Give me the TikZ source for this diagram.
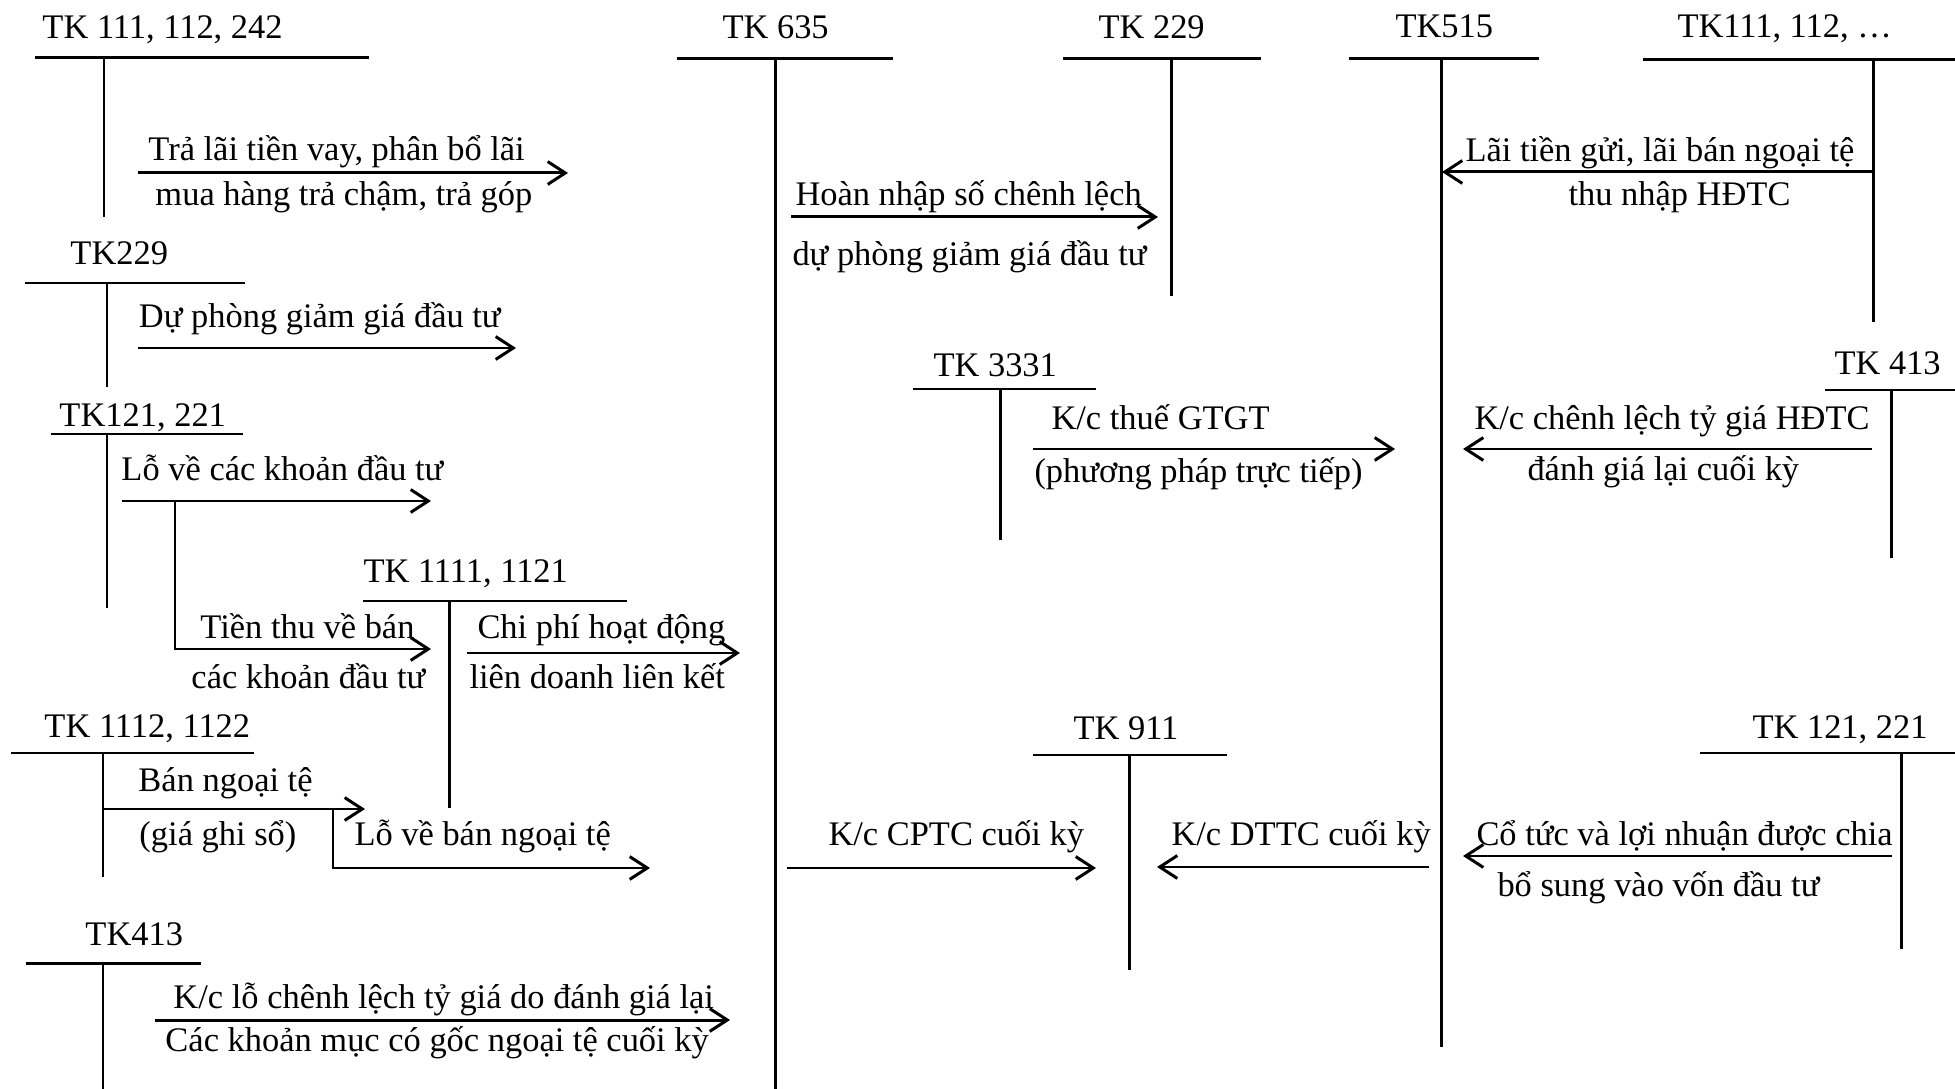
\documentclass[tikz,border=0pt]{standalone}
\usepackage{fontspec}
\setmainfont{Liberation Serif}
\usepackage{tikz}
\usetikzlibrary{arrows.meta}

\begin{document}
\begin{tikzpicture}[line width=0.85pt, >={Straight Barb[length=5pt,width=6.5pt]},
    lbl/.style={anchor=base west, inner sep=0pt, font=\fontsize{9.8}{12}\selectfont},
    txt/.style={lbl, yshift=-0.3mm}]
      \useasboundingbox (0, 0) rectangle (19.55, -10.89);
      % T accounts
      \node[lbl] (tk111a) at (0.41, -0.39) {TK 111, 112, 242};
      \draw (0.35, -0.58) -- (3.69, -0.58);
      \draw (1.04, -0.58) -- (1.04, -2.17);
      \node[lbl] (tk635) at (7.21, -0.39) {TK 635};
      \draw (6.77, -0.59) -- (8.93, -0.59);
      \draw (7.75, -0.59) -- (7.75, -10.89);
      \node[lbl] (tk229b) at (10.97, -0.39) {TK 229};
      \draw (10.63, -0.59) -- (12.61, -0.59);
      \draw (11.71, -0.59) -- (11.71, -2.96);
      \node[lbl] (tk515) at (13.94, -0.38) {TK515};
      \draw (13.49, -0.59) -- (15.39, -0.59);
      \draw (14.41, -0.59) -- (14.41, -10.47);
      \node[lbl] (tk111b) at (16.76, -0.38) {TK111, 112, …};
      \draw (16.43, -0.60) -- (19.55, -0.60);
      \draw (18.73, -0.60) -- (18.73, -3.22);
      \node[lbl] (tk229a) at (0.69, -2.65) {TK229};
      \draw (0.25, -2.83) -- (2.45, -2.83);
      \draw (1.07, -2.83) -- (1.07, -3.87);
      \node[lbl] (tk3331) at (9.32, -3.77) {TK 3331};
      \draw (9.13, -3.89) -- (10.96, -3.89);
      \draw (10.00, -3.89) -- (10.00, -5.40);
      \node[lbl] (tk413b) at (18.33, -3.75) {TK 413};
      \draw (18.25, -3.90) -- (19.55, -3.90);
      \draw (18.91, -3.90) -- (18.91, -5.58);
      \node[lbl] (tk121a) at (0.58, -4.27) {TK121, 221};
      \draw (0.51, -4.34) -- (2.43, -4.34);
      \draw (1.07, -4.34) -- (1.07, -6.08);
      \node[lbl] (tk1111) at (3.62, -5.82) {TK 1111, 1121};
      \draw (3.63, -6.01) -- (6.27, -6.01);
      \draw (4.49, -6.01) -- (4.49, -8.08);
      \node[lbl] (tk1112) at (0.43, -7.37) {TK 1112, 1122};
      \draw (0.11, -7.53) -- (2.54, -7.53);
      \draw (1.03, -7.53) -- (1.03, -8.77);
      \node[lbl] (tk911) at (10.72, -7.39) {TK 911};
      \draw (10.33, -7.55) -- (12.27, -7.55);
      \draw (11.29, -7.55) -- (11.29, -9.70);
      \node[lbl] (tk121b) at (17.51, -7.38) {TK 121, 221};
      \draw (17.00, -7.53) -- (19.55, -7.53);
      \draw (19.01, -7.53) -- (19.01, -9.49);
      \node[lbl] (tk413a) at (0.84, -9.45) {TK413};
      \draw (0.26, -9.63) -- (2.01, -9.63);
      \draw (1.03, -9.63) -- (1.03, -10.89);

      % arrow ends
      \coordinate (traS) at (1.375, -1.73);
      \coordinate (traE) at (5.68, -1.73);
      \coordinate (dpS) at (1.375, -3.48);
      \coordinate (dpE) at (5.16, -3.48);
      \coordinate (hnS) at (7.91, -2.17);
      \coordinate (hnE) at (11.58, -2.17);
      \coordinate (laiS) at (18.73, -1.72);
      \coordinate (laiE) at (14.42, -1.72);
      \coordinate (vatS) at (10.33, -4.49);
      \coordinate (vatE) at (13.95, -4.49);
      \coordinate (clS) at (18.72, -4.49);
      \coordinate (clE) at (14.63, -4.49);
      \coordinate (loS) at (1.22, -5.01);
      \coordinate (loE) at (4.31, -5.01);
      \coordinate (ttS) at (1.75, -5.01);
      \coordinate (ttE) at (4.31, -6.49);
      \coordinate (cpS) at (4.67, -6.53);
      \coordinate (cpE) at (7.40, -6.53);
      \coordinate (bnS) at (1.03, -8.09);
      \coordinate (bnE) at (3.65, -8.09);
      \coordinate (lbS) at (3.33, -8.09);
      \coordinate (lbE) at (6.50, -8.68);
      \coordinate (cptcS) at (7.87, -8.68);
      \coordinate (cptcE) at (10.96, -8.68);
      \coordinate (dttcS) at (14.29, -8.67);
      \coordinate (dttcE) at (11.57, -8.67);
      \coordinate (ctS) at (18.92, -8.56);
      \coordinate (ctE) at (14.63, -8.56);
      \coordinate (tgS) at (1.55, -10.20);
      \coordinate (tgE) at (7.30, -10.20);

      \draw[->] (traS) -- (traE);
      \draw[->] (dpS) -- (dpE);
      \draw[->] (hnS) -- (hnE);
      \draw[->] (laiS) -- (laiE);
      \draw[->] (vatS) -- (vatE);
      \draw[->] (clS) -- (clE);
      \draw[->] (loS) -- (loE);
      \draw[->] (ttS) |- (ttE);
      \draw[->] (cpS) -- (cpE);
      \draw[->] (bnS) -- (bnE);
      \draw[->] (lbS) |- (lbE);
      \draw[->] (cptcS) -- (cptcE);
      \draw[->] (dttcS) -- (dttcE);
      \draw[->] (ctS) -- (ctE);
      \draw[->] (tgS) -- (tgE);

      % texts
      \node[txt] (traA) at (1.47, -1.58) {Trả lãi tiền vay, phân bổ lãi};
      \node[txt] (traB) at (1.54, -2.03) {mua hàng trả chậm, trả góp};
      \node[txt] (dpA) at (1.375, -3.25) {Dự phòng giảm giá đầu tư};
      \node[txt] (hnA) at (7.94, -2.03) {Hoàn nhập số chênh lệch};
      \node[txt] (hnB) at (7.91, -2.63) {dự phòng giảm giá đầu tư};
      \node[txt] (laiA) at (14.64, -1.59) {Lãi tiền gửi, lãi bán ngoại tệ};
      \node[txt] (laiB) at (15.67, -2.03) {thu nhập HĐTC};
      \node[txt] (vatA) at (10.50, -4.27) {K/c thuế GTGT};
      \node[txt] (vatB) at (10.33, -4.80) {(phương pháp trực tiếp)};
      \node[txt] (clA) at (14.73, -4.27) {K/c chênh lệch tỷ giá HĐTC};
      \node[txt] (clB) at (15.26, -4.78) {đánh giá lại cuối kỳ};
      \node[txt] (loA) at (1.20, -4.78) {Lỗ về các khoản đầu tư};
      \node[txt] (ttA) at (1.99, -6.35) {Tiền thu về bán};
      \node[txt] (ttB) at (1.90, -6.85) {các khoản đầu tư};
      \node[txt] (cpA) at (4.76, -6.35) {Chi phí hoạt động};
      \node[txt] (cpB) at (4.68, -6.85) {liên doanh liên kết};
      \node[txt] (bnA) at (1.37, -7.88) {Bán ngoại tệ};
      \node[txt] (bnB) at (1.38, -8.42) {(giá ghi sổ)};
      \node[txt] (lbA) at (3.53, -8.42) {Lỗ về bán ngoại tệ};
      \node[txt] (cptcA) at (8.27, -8.42) {K/c CPTC cuối kỳ};
      \node[txt] (dttcA) at (11.70, -8.42) {K/c DTTC cuối kỳ};
      \node[txt] (ctA) at (14.75, -8.42) {Cổ tức và lợi nhuận được chia};
      \node[txt] (ctB) at (14.96, -8.93) {bổ sung vào vốn đầu tư};
      \node[txt] (tgA) at (1.72, -10.05) {K/c lỗ chênh lệch tỷ giá do đánh giá lại};
      \node[txt] (tgB) at (1.64, -10.48) {Các khoản mục có gốc ngoại tệ cuối kỳ};
    \end{tikzpicture}
\end{document}
